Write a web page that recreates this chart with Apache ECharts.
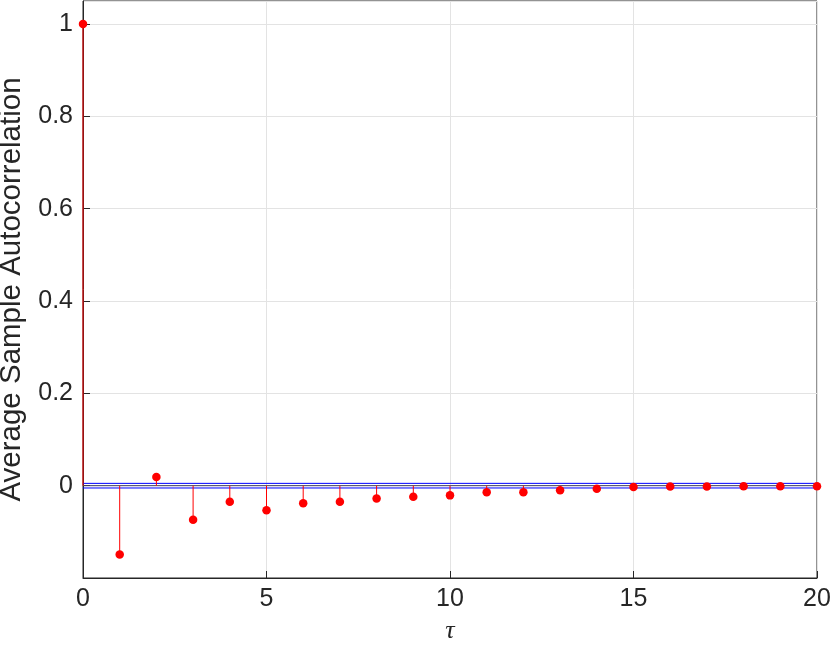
<!DOCTYPE html>
<html><head><meta charset="utf-8">
<script src="https://cdn.jsdelivr.net/npm/echarts@6/dist/echarts.min.js"></script>
<style>html,body{margin:0;padding:0;background:#fff}#c{width:830px;height:647px}</style>
</head><body><div id="c"></div>
<script>
const lags = [0,1,2,3,4,5,6,7,8,9,10,11,12,13,14,15,16,17,18,19,20];
const acf = [1.0,-0.149,0.019,-0.074,-0.035,-0.053,-0.038,-0.035,-0.028,-0.024,-0.021,-0.014,-0.014,-0.010,-0.0065,-0.003,-0.002,-0.002,-0.001,-0.001,-0.001];
const bounds = [0.005,-0.005];
const xTicks = [0,5,10,15,20];
const yTicks = [0,0.2,0.4,0.6,0.8,1];

const pts = lags.map((l,i)=>[l,acf[i]]);
const font = 'Liberation Sans, Arial, sans-serif';
const chart = echarts.init(document.getElementById('c'));
chart.setOption({
  animation:false,
  grid:{left:83,right:13,top:1,bottom:69,outerBoundsMode:'none',containLabel:false,show:true,borderColor:'#262626',borderWidth:1,backgroundColor:'#fff'},
  xAxis:{type:'value',min:0,max:20,interval:5,
    name:'τ',nameLocation:'middle',nameGap:40,
    nameTextStyle:{fontFamily:'Liberation Serif, DejaVu Serif, serif',fontStyle:'italic',fontSize:26,color:'#262626'},
    axisLine:{onZero:false,lineStyle:{color:'#262626'}},
    axisTick:{inside:true,length:7,lineStyle:{color:'#262626'}},
    axisLabel:{fontFamily:font,fontSize:25,color:'#262626',margin:9,formatter:v=>xTicks.includes(v)?String(v):''},
    splitLine:{show:true,lineStyle:{color:'#e3e3e3'}}},
  yAxis:{type:'value',min:-0.2,max:1.05,interval:0.2,
    name:'Average Sample Autocorrelation',nameLocation:'middle',nameGap:52,
    nameTextStyle:{fontFamily:font,fontSize:29.5,color:'#262626'},
    axisLine:{show:true,onZero:false,lineStyle:{color:'#262626'}},
    axisTick:{show:true,inside:true,length:7,lineStyle:{color:'#262626'}},
    axisLabel:{fontFamily:font,fontSize:25,color:'#262626',margin:10,showMaxLabel:false,
      formatter:v=>{const r=Math.round(v*10)/10; return yTicks.some(t=>Math.abs(t-v)<1e-6)?(r===0?'0':(r===1?'1':r.toFixed(1))):'';}},
    splitLine:{show:true,lineStyle:{color:'#e3e3e3'}}},
  series:[
    {type:'line',data:[[0,bounds[0]],[20,bounds[0]]],symbol:'none',lineStyle:{color:'#0000ff',width:1},z:2,silent:true},
    {type:'line',data:[[0,bounds[1]],[20,bounds[1]]],symbol:'none',lineStyle:{color:'#0000ff',width:1},z:2,silent:true},
    {type:'line',data:[[0,0],[20,0]],symbol:'none',lineStyle:{color:'#404060',width:1},z:2,silent:true},
    {type:'custom',data:pts,z:3,renderItem:(params,api)=>{
      const p0=api.coord([api.value(0),0]);const p1=api.coord([api.value(0),api.value(1)]);
      return {type:'line',shape:{x1:p0[0],y1:p0[1],x2:p1[0],y2:p1[1]},style:{stroke:'#ff0000',lineWidth:1}};
    }},
    {type:'scatter',data:pts,symbol:'circle',symbolSize:8.5,itemStyle:{color:'#ff0000',opacity:1},z:4}
  ]
});
</script></body></html>
